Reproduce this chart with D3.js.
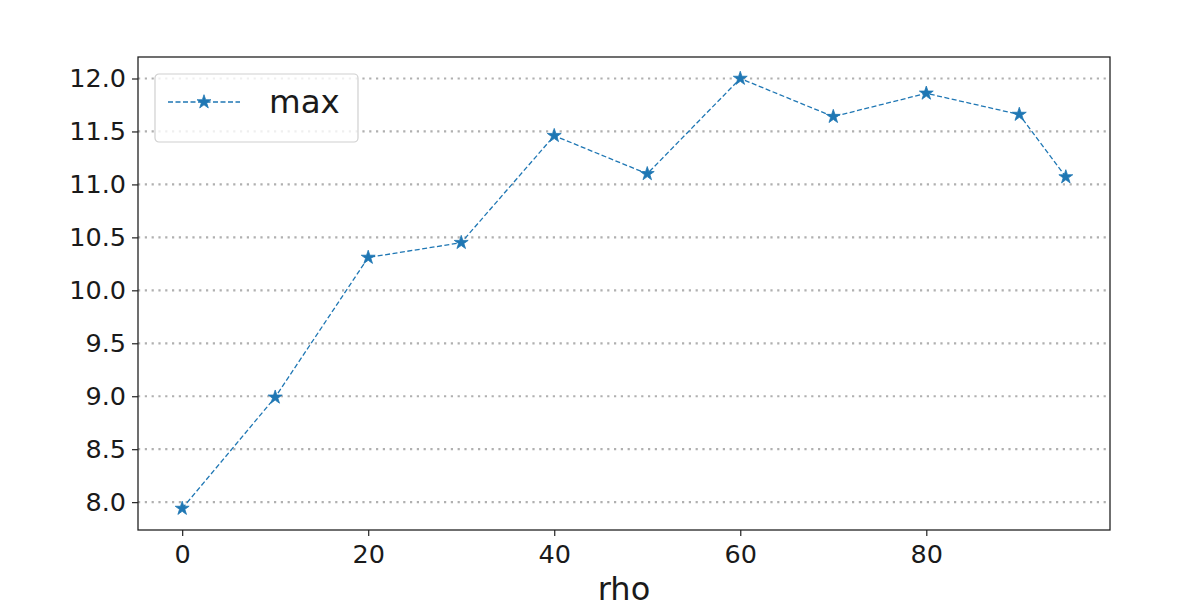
<!DOCTYPE html>
<html>
<head>
<meta charset="utf-8">
<script src="https://cdn.jsdelivr.net/npm/d3@7"></script>
<style>
  body { margin: 0; background: #fff; }
  text { font-family: "DejaVu Sans", sans-serif; fill: #1a1a1a; }
</style>
</head>
<body>
<svg id="chart" width="1196" height="608"></svg>
<script>
// data
var rho = [0, 10, 20, 30, 40, 50, 60, 70, 80, 90, 95];
var maxVals = [7.94, 8.99, 10.31, 10.45, 11.46, 11.10, 12.00, 11.64, 11.86, 11.66, 11.07];
var xTicks = [0, 20, 40, 60, 80];
var yTicks = [8.0, 8.5, 9.0, 9.5, 10.0, 10.5, 11.0, 11.5, 12.0];
var seriesName = "max";
var xLabel = "rho";

var margin = {top: 57, right: 86, bottom: 78, left: 138},
    width = 1196 - margin.left - margin.right,
    height = 608 - margin.top - margin.bottom;
var blue = "#1f77b4";

var svg = d3.select("#chart");
var g = svg.append("g").attr("transform", "translate(" + margin.left + "," + margin.top + ")");

// matplotlib style 5% padding on both axes
var xPad = (d3.max(rho) - d3.min(rho)) * 0.05;
var yPad = (d3.max(maxVals) - d3.min(maxVals)) * 0.05;
var x = d3.scaleLinear().domain([d3.min(rho) - xPad, d3.max(rho) + xPad]).range([0, width]);
var y = d3.scaleLinear().domain([d3.min(maxVals) - yPad, d3.max(maxVals) + yPad]).range([height, 0]);

// dotted horizontal grid
g.append("g").selectAll("line")
  .data(yTicks)
  .enter().append("line")
  .attr("x1", 0).attr("x2", width)
  .attr("y1", function(d){ return y(d); })
  .attr("y2", function(d){ return y(d); })
  .attr("stroke", "#b0b0b0")
  .attr("stroke-width", 2.2)
  .attr("stroke-dasharray", "2.2,4.6");

// axes
var xAxis = d3.axisBottom(x).tickValues(xTicks).tickFormat(d3.format("d")).tickSize(6).tickPadding(6);
var yAxis = d3.axisLeft(y).tickValues(yTicks).tickFormat(d3.format(".1f")).tickSize(6).tickPadding(6);

var gx = g.append("g").attr("transform", "translate(0," + height + ")").call(xAxis);
var gy = g.append("g").call(yAxis);
[gx, gy].forEach(function(a){
  a.select(".domain").remove();
  a.selectAll("line").attr("stroke", "#222").attr("stroke-width", 1.2);
  a.selectAll("text").style("font-size", "25.5px").attr("fill", "#1a1a1a");
});
gx.selectAll("text").attr("dy", "0.82em");

// frame
g.append("rect")
  .attr("x", 0).attr("y", 0)
  .attr("width", width).attr("height", height)
  .attr("fill", "none")
  .attr("stroke", "#222")
  .attr("stroke-width", 1.3);

// x label
g.append("text")
  .attr("x", width / 2)
  .attr("y", height + 70)
  .attr("text-anchor", "middle")
  .style("font-size", "32px")
  .text(xLabel);

// line + star markers
var line = d3.line()
  .x(function(d, i){ return x(rho[i]); })
  .y(function(d){ return y(d); });

g.append("path")
  .datum(maxVals)
  .attr("d", line)
  .attr("fill", "none")
  .attr("stroke", blue)
  .attr("stroke-width", 1.3)
  .attr("stroke-dasharray", "5,2.5");

var star = d3.symbol().type(d3.symbolStar).size(60);
g.append("g").selectAll("path")
  .data(maxVals)
  .enter().append("path")
  .attr("d", star)
  .attr("transform", function(d, i){ return "translate(" + x(rho[i]) + "," + y(d) + ")"; })
  .attr("fill", blue)
  .attr("stroke", blue)
  .attr("stroke-width", 0.8);

// legend
var lg = g.append("g").attr("transform", "translate(17,17)");
lg.append("rect")
  .attr("x", 0).attr("y", 0)
  .attr("width", 203).attr("height", 68)
  .attr("rx", 4)
  .attr("fill", "#fff")
  .attr("fill-opacity", 0.8)
  .attr("stroke", "#d0d0d0")
  .attr("stroke-width", 1.2);
lg.append("line")
  .attr("x1", 13).attr("x2", 85)
  .attr("y1", 28).attr("y2", 28)
  .attr("stroke", blue)
  .attr("stroke-width", 1.3)
  .attr("stroke-dasharray", "5,2.5");
lg.append("path")
  .attr("d", star)
  .attr("transform", "translate(49,28)")
  .attr("fill", blue)
  .attr("stroke", blue)
  .attr("stroke-width", 0.8);
lg.append("text")
  .attr("x", 114)
  .attr("y", 28)
  .attr("dy", "0.35em")
  .style("font-size", "32.5px")
  .text(seriesName);
</script>
</body>
</html>
